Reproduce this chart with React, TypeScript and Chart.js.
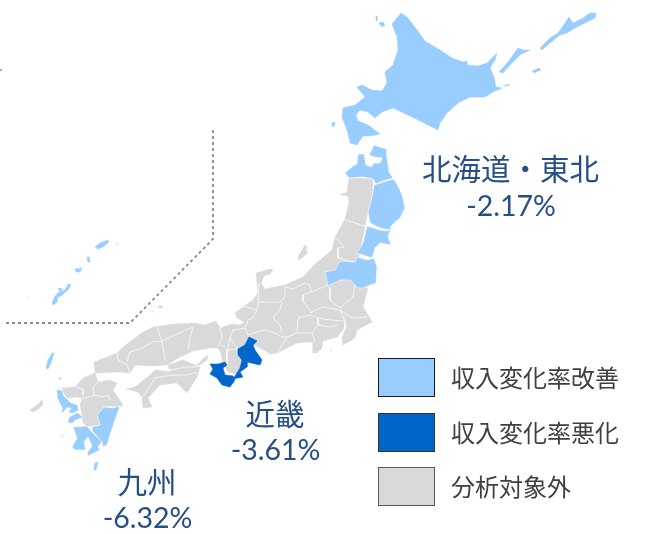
import { useEffect, useRef } from "react";
import { Chart, registerables } from "chart.js";

Chart.register(...registerables);

type P = [number, number];

// ---- map outlines, in the map's own 651 x 534 coordinate system ----
const hokkaido: P[] = [[392,24],[401,13],[408,18],[417,30],[425,41],[440,50],[452,58],[463,62],[467,61],[467,65],[478,66],[487,63],[497,53],[495,60],[490,68],[494,77],[496,87],[502,88],[493,92],[485,97],[470,97],[458,103],[447,113],[440,123],[438,130],[428,125],[412,117],[393,108],[382,112],[375,118],[368,112],[360,110],[356,115],[358,121],[368,125],[380,134],[370,136],[363,136],[357,145],[350,143],[348,133],[345,125],[342,117],[343,108],[355,105],[365,97],[357,87],[362,85],[372,90],[382,91],[387,83],[385,72],[393,65],[398,50],[397,37]];
const kunashiri: P[] = [[499,72],[508,62],[518,48],[523,50],[530,50],[520,55],[512,63],[503,73]];
const etorofu: P[] = [[540,48],[550,38],[558,33],[565,23],[569,17],[573,23],[583,18],[590,13],[596,13],[595,18],[587,22],[575,28],[567,33],[560,35],[550,43],[542,50]];
const shikotan: P[] = [[532,71],[539,68],[541,70],[534,73]];
const habomai: P[] = [[503,86],[510,84],[508,86]];
const rishiri: P[] = [[379,23],[383,22],[385,25],[382,27]];
const rebun: P[] = [[376,16],[377,16],[377,21],[376,19]];
const okushiri: P[] = [[332,123],[335,122],[334,126],[332,127]];
const aomori: P[] = [[345,173],[353,166],[357,164],[358,154],[364,154],[366,165],[371,167],[374,163],[380,163],[382,158],[375,157],[369,155],[374,145],[380,147],[387,149],[387,157],[389,172],[393,178],[383,181],[376,184],[373,179],[363,177],[349,178]];
const iwate: P[] = [[374,185],[383,182],[394,179],[400,190],[403,198],[405,208],[400,218],[392,225],[390,230],[380,228],[370,223],[368,212],[372,197]];
const miyagi: P[] = [[367,226],[380,230],[388,231],[392,225],[388,237],[391,245],[380,243],[375,248],[372,258],[357,253],[363,243]];
const fukushima: P[] = [[357,257],[368,260],[374,258],[377,267],[376,283],[363,288],[358,288],[350,280],[340,280],[328,286],[325,272],[335,270],[340,261],[355,262]];
const tsushima: P[] = [[46,368],[48,360],[52,353],[54,353],[51,363],[48,369]];
const nagasaki: P[] = [[57,390],[62,391],[63,396],[68,400],[70,403],[77,405],[78,410],[73,413],[69,412],[72,408],[67,407],[62,413],[63,408],[60,403],[58,398]];
const amakusa: P[] = [[70,417],[78,413],[82,417],[75,420],[72,423],[68,422]];
const kagoshima: P[] = [[73,427],[87,426],[92,432],[102,442],[98,447],[100,450],[88,456],[87,453],[92,446],[88,437],[84,442],[86,450],[75,450],[72,447],[77,438]];
const miyazaki: P[] = [[104,407],[113,408],[120,406],[115,420],[110,435],[107,445],[103,447],[102,442],[93,432],[92,427],[100,425],[97,415]];
const tanegashima: P[] = [[95,463],[98,462],[96,470],[94,470]];
const amami: P[] = [[95,247],[100,243],[108,240],[109,242],[103,247],[98,249]];
const tokunoshima: P[] = [[87,257],[89,257],[90,262],[88,262]];
const okinoerabu: P[] = [[75,269],[82,268],[80,272],[76,272]];
const okinawa: P[] = [[52,303],[55,296],[58,293],[65,290],[68,284],[71,285],[68,290],[62,295],[57,298],[57,302],[53,305]];
const motobu: P[] = [[58,288],[63,289],[60,292]];

const wakayama: P[] = [[210,364],[218,364],[225,362],[227,365],[223,368],[225,375],[233,376],[235,380],[230,387],[222,385],[217,378],[210,374],[213,369]];
const mie: P[] = [[249,337],[257,341],[253,345],[255,350],[262,360],[260,365],[247,362],[247,367],[240,372],[243,377],[233,379],[237,373],[240,368],[242,360],[238,355],[238,349],[245,345]];

const honshu: P[] = [[349,178],[348,185],[347,192],[340,195],[348,196],[349,203],[345,219],[335,237],[332,250],[314,265],[303,277],[285,285],[275,287],[265,289],[261,283],[264,276],[270,274],[273,270],[270,269],[260,272],[256,273],[257,283],[258,293],[253,300],[243,307],[235,313],[237,318],[245,322],[240,325],[232,324],[220,328],[216,321],[205,325],[195,323],[175,324],[153,327],[143,332],[123,347],[117,353],[94,362],[95,373],[97,373],[117,372],[130,373],[135,365],[150,366],[167,365],[180,357],[193,351],[210,348],[218,348],[221,353],[222,360],[228,372],[240,375],[245,360],[254,345],[262,349],[270,354],[277,353],[287,348],[297,343],[307,342],[313,342],[313,353],[317,353],[322,348],[323,341],[337,337],[343,330],[347,325],[342,338],[343,345],[355,338],[357,330],[372,322],[367,313],[363,307],[368,288],[362,287],[358,262],[365,226],[368,212],[372,197],[373,179]];
const shikoku: P[] = [[126,389],[135,387],[150,375],[155,370],[170,372],[168,365],[183,360],[200,367],[197,377],[187,393],[177,383],[160,385],[148,398],[152,407],[143,408],[142,397],[138,392]];
const kyushu: P[] = [[62,388],[75,387],[83,378],[95,373],[98,382],[110,380],[117,383],[113,390],[123,405],[120,407],[110,406],[103,407],[98,415],[100,425],[92,426],[87,426],[83,423],[82,415],[80,405],[82,398],[75,397],[68,398],[65,395]];
const sado: P[] = [[298,257],[302,250],[305,245],[307,247],[306,251],[308,252],[302,258],[298,260]];
const awaji: P[] = [[197,365],[205,357],[208,355],[207,360],[200,365]];
const oki: P[] = [[158,306],[163,306],[162,308],[159,308]];
const goto: P[] = [[30,410],[37,405],[42,400],[43,405],[37,410],[32,412]];
const iki: P[] = [[59,377],[62,378],[60,380]];

const faintIslands: P[][] = [
  [[150,311],[154,310],[153,313]],
  [[329,349],[332,350],[331,352]],
  [[60,437],[65,433],[62,438]],
  [[116,243],[119,243],[117,245]],
  [[26,297],[29,297],[28,299]],
];

// ---- prefecture borders ----
const prefectureBorders: P[][] = [
  [[259,283],[258,302],[257,310]],
  [[243,306],[257,310]],
  [[258,302],[270,302],[280,302],[285,297],[285,287]],
  [[257,310],[253,318],[248,320],[245,328],[248,335],[257,332],[265,330],[275,333],[282,337],[287,337]],
  [[282,302],[280,310],[273,318],[280,325],[282,333]],
  [[287,337],[297,333]],
  [[287,337],[278,352]],
  [[297,333],[298,318],[310,315],[318,318],[318,325],[312,333],[298,333]],
  [[312,333],[315,342]],
  [[318,325],[330,327],[338,325]],
  [[318,318],[330,320],[345,321]],
  [[310,313],[323,307],[340,310],[345,321]],
  [[340,310],[352,318],[367,317]],
  [[345,321],[345,330]],
  [[285,287],[293,289],[305,283],[310,285],[311,292],[303,295],[303,301],[312,313]],
  [[311,292],[328,285]],
  [[330,287],[330,300],[340,308]],
  [[355,283],[353,297],[340,308]],
  [[245,328],[233,330],[230,338],[237,348]],
  [[220,328],[222,337],[218,347]],
  [[225,347],[222,345]],
  [[227,350],[238,349]],
  [[227,350],[227,365]],
  [[230,338],[228,347],[227,350]],
  [[117,353],[118,360],[127,365],[130,373]],
  [[127,362],[130,352],[142,348],[152,342],[162,341]],
  [[162,341],[177,334],[193,327]],
  [[162,341],[157,327]],
  [[162,341],[165,360]],
  [[193,327],[190,338],[188,350]],
  [[170,370],[187,367],[198,367]],
  [[143,397],[155,378],[172,375],[187,375],[197,372]],
  [[170,372],[170,368]],
  [[98,382],[93,387],[94,395]],
  [[94,395],[103,397],[108,395],[110,400]],
  [[75,387],[83,389],[83,395]],
  [[82,398],[90,397],[94,395]],
  [[345,220],[365,226]],
  [[338,248],[338,258],[355,262]],
  [[335,237],[344,247],[338,248]],
];

const dashedFrame: P[] = [[6,323],[130,323],[213,239],[213,129]];
const edgeTick: P[] = [[0,70],[2,70]];

// ---- text ----
const legendLabels = ["収入変化率改善", "収入変化率悪化", "分析対象外"];
const legendColors = ["#99CCFF", "#0066CC", "#D9D9D9"];
const legendEdges = ["#1a1a1a", "#333333", "#595959"];
const regionNames = ["北海道・東北", "近畿", "九州"];
const regionRates = ["-2.17%", "-3.61%", "-6.32%"];
const regionNameAnchors: P[] = [[510.5, 169], [275, 414], [147, 482]];
const regionRateAnchors: P[] = [[511, 207], [275.5, 451], [147.5, 519]];
const legendBoxes: P[] = [[378, 358], [378, 413], [378, 467]];

const close = (p: P[]) => [...p, p[0]].map(([x, y]) => ({ x, y }));

const area = (points: P[], color: string, edge: string, width: number) => ({
  data: close(points),
  showLine: true,
  fill: "shape" as const,
  backgroundColor: color,
  borderColor: edge,
  borderWidth: width,
  borderJoinStyle: "round" as const,
  pointRadius: 0,
  tension: 0,
});

const stroke = (points: P[], color: string, width: number, dash: number[] = []) => ({
  data: points.map(([x, y]) => ({ x, y })),
  showLine: true,
  fill: false,
  borderColor: color,
  borderWidth: width,
  borderDash: dash,
  pointRadius: 0,
  tension: 0,
});

const annotations = {
  id: "annotations",
  afterDraw(chart: Chart) {
    const { ctx } = chart;
    const x = chart.scales.x;
    const y = chart.scales.y;
    ctx.save();
    legendLabels.forEach((label, i) => {
      const [bx, by] = legendBoxes[i];
      const l = x.getPixelForValue(bx) + 0.5;
      const t = y.getPixelForValue(by) + 0.5;
      ctx.fillStyle = legendColors[i];
      ctx.strokeStyle = legendEdges[i];
      ctx.lineWidth = 1;
      ctx.fillRect(l, t, 56, 38);
      ctx.strokeRect(l, t, 56, 38);
      ctx.fillStyle = "#404040";
      ctx.font = "24px 'Noto Sans CJK JP'";
      ctx.textAlign = "left";
      ctx.textBaseline = "middle";
      ctx.fillText(label, x.getPixelForValue(bx + 73), t + 19);
    });
    ctx.fillStyle = "#264F85";
    ctx.textAlign = "center";
    ctx.textBaseline = "middle";
    regionNames.forEach((name, i) => {
      ctx.font = "29.5px 'Noto Sans CJK JP'";
      const [nx, ny] = regionNameAnchors[i];
      ctx.fillText(name, x.getPixelForValue(nx), y.getPixelForValue(ny));
      ctx.font = "28.5px Lato, 'Noto Sans CJK JP'";
      const [rx, ry] = regionRateAnchors[i];
      ctx.fillText(regionRates[i], x.getPixelForValue(rx), y.getPixelForValue(ry));
    });
    ctx.restore();
  },
};

export default function App() {
  const ref = useRef<HTMLCanvasElement>(null);
  useEffect(() => {
    if (!ref.current) return;
    const white = "#FFFFFF";
    const border = "rgba(255,255,255,0.8)";
    const light = legendColors[0];
    const dark = legendColors[1];
    const grey = legendColors[2];
    const greyAreas = [honshu, shikoku, kyushu, sado, awaji, oki, goto, iki];
    const lightIslands = [kunashiri, etorofu, shikotan, habomai, rishiri, rebun, okushiri, hokkaido, tsushima, nagasaki, amakusa, tanegashima, amami, tokunoshima, okinoerabu, okinawa, motobu];
    const lightPrefectures = [aomori, iwate, miyagi, fukushima, kagoshima, miyazaki];
    const darkPrefectures = [wakayama, mie];
    // Chart.js paints the first dataset last, so the bottom layer goes at the end.
    const layers = [
      ...greyAreas.map((p) => area(p, grey, grey, 0.5)),
      ...faintIslands.map((p) => area(p, "#ECECEC", "#ECECEC", 0.5)),
      ...prefectureBorders.map((p) => stroke(p, border, 0.9)),
      ...lightIslands.map((p) => area(p, light, light, 0.5)),
      ...lightPrefectures.map((p) => area(p, light, white, 0.6)),
      ...darkPrefectures.map((p) => area(p, dark, dark, 0.6)),
      stroke(dashedFrame, "#8A8A8A", 1.8, [3, 3]),
      stroke(edgeTick, "#555555", 1),
    ];
    const chart = new Chart(ref.current, {
      type: "scatter",
      data: { datasets: layers.reverse() as any },
      options: {
        animation: false,
        responsive: false,
        layout: { padding: 0 },
        plugins: { legend: { display: false }, tooltip: { enabled: false } },
        scales: {
          x: { type: "linear", min: 0, max: 651, display: false },
          y: { type: "linear", min: 0, max: 534, reverse: true, display: false },
        },
      },
      plugins: [annotations],
    });
    return () => chart.destroy();
  }, []);
  return (
    <div style={{ position: "absolute", left: 0, top: 0, width: 651, height: 534, background: "#fff" }}>
      <canvas ref={ref} width={651} height={534} style={{ display: "block", filter: "blur(0.35px)" }} />
    </div>
  );
}
